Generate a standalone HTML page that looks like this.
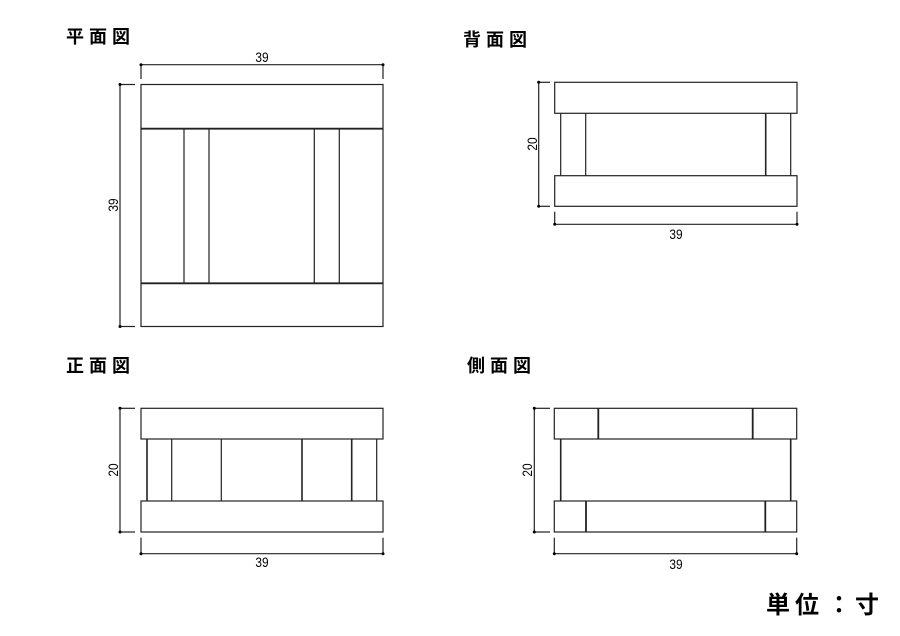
<!DOCTYPE html>
<html><head><meta charset="utf-8"><style>
html,body{margin:0;padding:0;background:#fff;}
svg{display:block;}
text{font-family:"Liberation Sans","Noto Sans CJK JP",sans-serif;fill:#000;}
</style></head><body>
<svg width="900" height="636" viewBox="0 0 900 636" xmlns="http://www.w3.org/2000/svg">
<g font-size="18" font-weight="bold" letter-spacing="5">
<text x="66" y="43">平面図</text>
<text x="463" y="46">背面図</text>
<text x="66" y="372">正面図</text>
<text x="467" y="372">側面図</text>
</g>
<g font-size="24" font-weight="bold">
<text x="766" y="613">単</text>
<text x="795" y="613">位</text>
<text x="827" y="613">：</text>
<text x="855" y="613">寸</text>
</g>

<g fill="none" stroke="#222" stroke-width="1.2">
<!-- plan -->
<rect x="141" y="84.5" width="242" height="242"/>
<line x1="141" y1="128.7" x2="383" y2="128.7" stroke-width="1.8"/>
<line x1="141" y1="283.3" x2="383" y2="283.3" stroke-width="1.8"/>
<line x1="184" y1="128.7" x2="184" y2="283.3"/>
<line x1="209" y1="128.7" x2="209" y2="283.3"/>
<line x1="314.3" y1="128.7" x2="314.3" y2="283.3"/>
<line x1="339.3" y1="128.7" x2="339.3" y2="283.3"/>
<line x1="141" y1="64.7" x2="383" y2="64.7"/>
<line x1="141" y1="64.7" x2="141" y2="79"/>
<line x1="383" y1="64.7" x2="383" y2="79"/>
<line x1="120" y1="84.5" x2="120" y2="326.5"/>
<line x1="120" y1="84.5" x2="135" y2="84.5"/>
<line x1="120" y1="326.5" x2="135" y2="326.5"/>

<!-- back -->
<rect x="554.7" y="82.3" width="242.3" height="31"/>
<rect x="554.7" y="175.7" width="242.3" height="30.6"/>
<line x1="560.7" y1="113.3" x2="560.7" y2="175.7"/>
<line x1="585.7" y1="113.3" x2="585.7" y2="175.7"/>
<line x1="765.7" y1="113.3" x2="765.7" y2="175.7" stroke-width="1.6"/>
<line x1="790.7" y1="113.3" x2="790.7" y2="175.7"/>
<line x1="538.7" y1="82.3" x2="538.7" y2="206.3"/>
<line x1="538.7" y1="82.3" x2="550" y2="82.3"/>
<line x1="538.7" y1="206.3" x2="550" y2="206.3"/>
<line x1="554.7" y1="224.3" x2="797" y2="224.3"/>
<line x1="554.7" y1="211.7" x2="554.7" y2="224.3"/>
<line x1="797" y1="211.7" x2="797" y2="224.3"/>

<!-- front -->
<rect x="141" y="408.3" width="242" height="30.7"/>
<rect x="141" y="501" width="242" height="31"/>
<line x1="147" y1="439" x2="147" y2="501" stroke-width="1.6"/>
<line x1="171.7" y1="439" x2="171.7" y2="501"/>
<line x1="221.3" y1="439" x2="221.3" y2="501"/>
<line x1="302" y1="439" x2="302" y2="501" stroke-width="1.6"/>
<line x1="351.7" y1="439" x2="351.7" y2="501" stroke-width="1.6"/>
<line x1="376.7" y1="439" x2="376.7" y2="501"/>
<line x1="120" y1="408.3" x2="120" y2="532"/>
<line x1="120" y1="408.3" x2="135" y2="408.3"/>
<line x1="120" y1="532" x2="135" y2="532"/>
<line x1="141" y1="553.7" x2="383" y2="553.7"/>
<line x1="141" y1="537.7" x2="141" y2="553.7"/>
<line x1="383" y1="537.7" x2="383" y2="553.7"/>

<!-- side -->
<rect x="554.3" y="408.3" width="242.4" height="30.7"/>
<rect x="554.3" y="501" width="242.4" height="31"/>
<line x1="598.3" y1="408.3" x2="598.3" y2="439" stroke-width="1.8"/>
<line x1="752.7" y1="408.3" x2="752.7" y2="439" stroke-width="1.8"/>
<line x1="586" y1="501" x2="586" y2="532" stroke-width="1.8"/>
<line x1="765.3" y1="501" x2="765.3" y2="532" stroke-width="1.8"/>
<line x1="560.7" y1="439" x2="560.7" y2="501" stroke-width="1.6"/>
<line x1="790.7" y1="439" x2="790.7" y2="501" stroke-width="1.6"/>
<line x1="534.3" y1="408.3" x2="534.3" y2="532"/>
<line x1="534.3" y1="408.3" x2="550" y2="408.3"/>
<line x1="534.3" y1="532" x2="550" y2="532"/>
<line x1="554.3" y1="553.7" x2="796.7" y2="553.7"/>
<line x1="554.3" y1="537.7" x2="554.3" y2="553.7"/>
<line x1="796.7" y1="537.7" x2="796.7" y2="553.7"/>
</g>
<g fill="#000">
<circle cx="141" cy="64.7" r="1.5"/><circle cx="383" cy="64.7" r="1.5"/>
<circle cx="120" cy="84.5" r="1.5"/><circle cx="120" cy="326.5" r="1.5"/>
<circle cx="538.7" cy="82.3" r="1.5"/><circle cx="538.7" cy="206.3" r="1.5"/>
<circle cx="554.7" cy="224.3" r="1.5"/><circle cx="797" cy="224.3" r="1.5"/>
<circle cx="120" cy="408.3" r="1.5"/><circle cx="120" cy="532" r="1.5"/>
<circle cx="141" cy="553.7" r="1.5"/><circle cx="383" cy="553.7" r="1.5"/>
<circle cx="534.3" cy="408.3" r="1.5"/><circle cx="534.3" cy="532" r="1.5"/>
<circle cx="554.3" cy="553.7" r="1.5"/><circle cx="796.7" cy="553.7" r="1.5"/>
</g>
<g font-size="14" text-anchor="middle">
<g transform="translate(262,62) scale(0.85,1)"><text x="0" y="0">39</text></g>
<g transform="translate(676,239) scale(0.85,1)"><text x="0" y="0">39</text></g>
<g transform="translate(262,567) scale(0.85,1)"><text x="0" y="0">39</text></g>
<g transform="translate(676,569) scale(0.85,1)"><text x="0" y="0">39</text></g>
<text transform="translate(118,205) rotate(-90) scale(0.85,1)">39</text>
<text transform="translate(537,144) rotate(-90) scale(0.85,1)">20</text>
<text transform="translate(118,470) rotate(-90) scale(0.85,1)">20</text>
<text transform="translate(532,470) rotate(-90) scale(0.85,1)">20</text>
</g>
</svg>
</body></html>
